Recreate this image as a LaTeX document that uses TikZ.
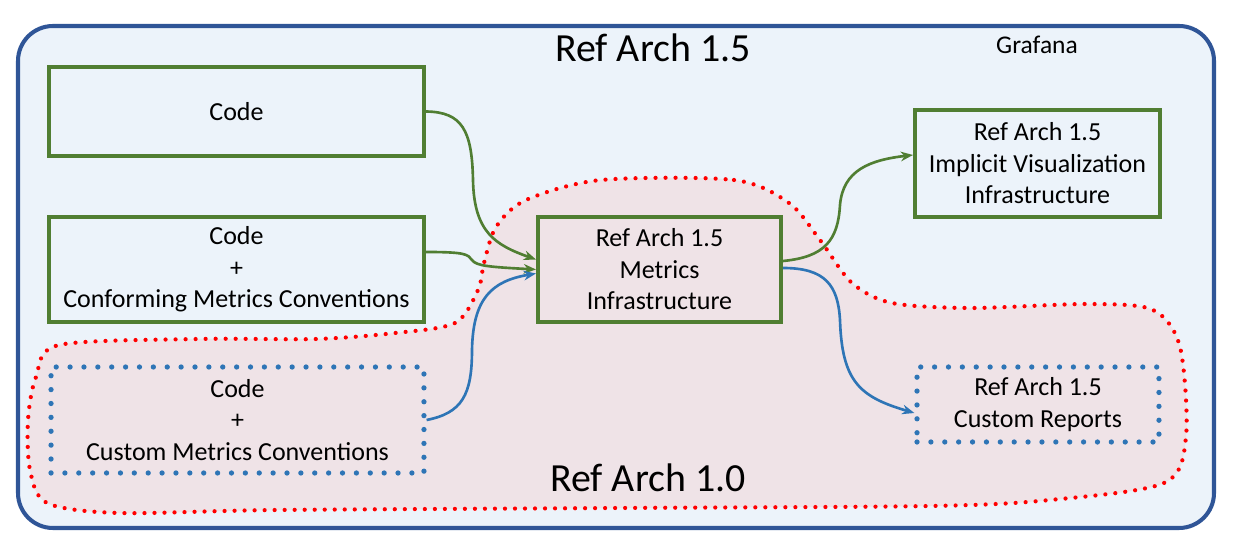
\documentclass[tikz,border=0pt]{standalone}
\usepackage{fontspec}
\setmainfont{Carlito}
\usetikzlibrary{arrows.meta,calc}
\definecolor{outerblue}{HTML}{2F5597}
\definecolor{outerfill}{HTML}{ECF3FA}
\definecolor{blobfill}{HTML}{EFE3E7}
\definecolor{boxgreen}{HTML}{507E32}
\definecolor{dotblue}{HTML}{2E75B6}
\tikzset{
  boxtext/.style={font=\fontsize{14.8}{17.9}\selectfont, align=center, text=black},
  greenbox/.style={boxtext, draw=boxgreen, line width=2.3pt, inner sep=0pt},
  bluebox/.style={boxtext, draw=dotblue, line width=3pt, line cap=round, dash pattern=on 0pt off 7.9pt, inner sep=0pt},
  greenarrow/.style={draw=boxgreen, line width=1.5pt, -{Stealth[length=7pt,width=5.5pt]}},
  bluearrow/.style={draw=dotblue, line width=1.5pt, -{Stealth[length=7pt,width=5.5pt]}},
  bigtitle/.style={font=\fontsize{22.7}{27}\selectfont, inner sep=0pt, anchor=base},
}
\begin{document}
\begin{tikzpicture}[x=0.02cm,y=-0.02cm]
\useasboundingbox (0,0) rectangle (1235,550);
% outer frame
\draw[draw=outerblue, fill=outerfill, line width=2.3pt, rounded corners=0.7cm] (18,26) rectangle (1214,528);
% Ref Arch 1.0 region
\draw[draw=red, fill=blobfill, line width=2.4pt, line cap=round, dash pattern=on 0pt off 5.7pt]
  plot[smooth cycle, tension=0.5] coordinates {
  (601,180) (734,180) (789,203) (820,240) (852,283) (892,303) (971,308) (1089,304)
  (1153,310) (1180,347) (1186,437) (1164,483) (1050,500) (931,506) (620,508) (277,510)
  (119,513) (47,503) (30,470) (28,420) (36,377) (59,345) (198,339) (316,339) (395,333)
  (455,323) (478,290) (484,263) (496,227) (526,200)};
% titles
\node[bigtitle] (t15) at (653,62) {Ref Arch 1.5};
\node[bigtitle] (t10) at (648,492) {Ref Arch 1.0};
\node[font=\fontsize{14.5}{17}\selectfont, inner sep=0pt, anchor=base] (graf) at (1037,54) {Grafana};
% boxes
\node[greenbox, minimum width=7.5cm, minimum height=1.78cm] (c1) at (236.5,111.5) {Code};
\node[greenbox, minimum width=7.5cm, minimum height=2.1cm] (c2) at (236.5,269.5) {Code\\+\\Conforming Metrics Conventions};
\node[bluebox, minimum width=7.46cm, minimum height=2.12cm] (c3) at (237.5,420) {Code\\+\\Custom Metrics Conventions};
\node[greenbox, minimum width=4.86cm, minimum height=2.1cm] (m) at (659.5,269.5) {Ref Arch 1.5\\Metrics\\Infrastructure};
\node[greenbox, minimum width=4.9cm, minimum height=2.14cm] (viz) at (1037.5,163.5) {Ref Arch 1.5\\Implicit Visualization\\Infrastructure};
\node[bluebox, minimum width=4.84cm, minimum height=1.5cm] (rep) at (1038,404.5) {Ref Arch 1.5\\Custom Reports};
% anchor points
\coordinate (c2o) at ($(c2.east)+(0,-17.5)$);
\coordinate (m1) at ($(m.west)+(0,-10)$);
\coordinate (m3) at ($(m.west)+(0,4)$);
\coordinate (mo1) at ($(m.east)+(0,-8.5)$);
\coordinate (mo2) at ($(m.east)+(0,-1.5)$);
\coordinate (vizi) at ($(viz.west)+(0,-8.5)$);
\coordinate (repi) at ($(rep.west)+(0,8.5)$);
% connectors
\draw[greenarrow] (c1.east) .. controls (462,112) and (472,130) .. (473,180)
   .. controls (474,232) and (495,245) .. (m1);
\draw[greenarrow] (c2o) .. controls (464,252) and (468,254) .. (472,260)
   .. controls (476,266) and (490,267) .. (m.west);
\draw[bluearrow] (c3.east) .. controls (462,413) and (472,395) .. (472,350)
   .. controls (473,298) and (492,281) .. (m3);
\draw[greenarrow] (mo1) .. controls (825,257) and (838,240) .. (840,205)
   .. controls (843,170) and (870,160) .. (vizi);
\draw[bluearrow] (mo2) .. controls (825,268) and (838,285) .. (840,320)
   .. controls (842,382) and (860,397) .. (repi);
\end{tikzpicture}
\end{document}
